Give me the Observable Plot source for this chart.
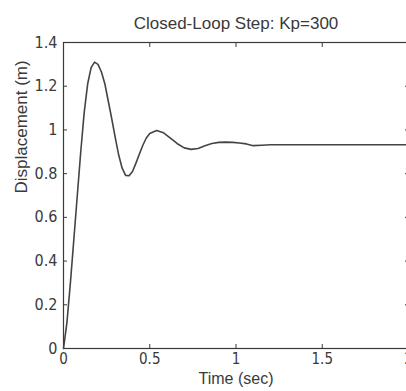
<!DOCTYPE html>
<html>
<head>
<meta charset="utf-8">
<script src="https://cdn.jsdelivr.net/npm/d3@7"></script>
<script src="https://cdn.jsdelivr.net/npm/@observablehq/plot@0.6"></script>
<style>
  html, body { margin: 0; padding: 0; background: #fff; }
  #chart { position: relative; width: 406px; height: 391px; overflow: hidden; }
  svg { font-family: "Liberation Sans", Arial, sans-serif; }
</style>
</head>
<body>
<div id="chart"></div>
<script>
const title = "Closed-Loop Step: Kp=300";
const xLabel = "Time (sec)";
const yLabel = "Displacement (m)";
const xTicks = [0, 0.5, 1, 1.5, 2];
const yTicks = [0, 0.2, 0.4, 0.6, 0.8, 1, 1.2, 1.4];

const time = [0, 0.02, 0.04, 0.06, 0.08, 0.10, 0.12, 0.14, 0.16, 0.18, 0.20, 0.22, 0.24, 0.26, 0.28, 0.30, 0.32, 0.34, 0.36, 0.38, 0.40, 0.42, 0.44, 0.46, 0.48, 0.50, 0.54, 0.58, 0.62, 0.66, 0.70, 0.74, 0.78, 0.82, 0.86, 0.90, 0.94, 0.98, 1.02, 1.06, 1.10, 1.15, 1.2, 1.4, 1.6, 1.8, 2.0];
const displacement = [0, 0.12, 0.3, 0.5, 0.7, 0.9, 1.08, 1.21, 1.285, 1.31, 1.3, 1.265, 1.21, 1.13, 1.05, 0.965, 0.885, 0.825, 0.792, 0.79, 0.81, 0.848, 0.89, 0.93, 0.963, 0.984, 0.997, 0.987, 0.962, 0.937, 0.918, 0.911, 0.915, 0.928, 0.938, 0.943, 0.944, 0.943, 0.94, 0.936, 0.928, 0.93, 0.932, 0.932, 0.932, 0.932, 0.932];

const data = time.map((t, i) => ({t, y: displacement[i]}));
const ink = "#3a3a3a";
const tickFont = "'Liberation Sans Narrow', 'DejaVu Sans Condensed', 'Liberation Sans', sans-serif";

const chart = Plot.plot({
  width: 406,
  height: 391,
  marginLeft: 63,
  marginRight: -2,
  marginTop: 42,
  marginBottom: 43,
  style: {fontSize: "12px", color: ink, background: "#fff", overflow: "hidden"},
  x: {domain: [0, 2], ticks: xTicks},
  y: {domain: [0, 1.4], ticks: yTicks},
  marks: [
    Plot.frame({stroke: ink, strokeWidth: 1.2}),
    Plot.axisX({anchor: "bottom", ticks: xTicks, tickSize: -4, tickPadding: 9, tickFormat: d3.format(""), stroke: ink, fill: ink, fontSize: 15, fontFamily: tickFont, label: null}),
    Plot.axisX({anchor: "top", ticks: xTicks, tickSize: -4, tickFormat: () => "", stroke: ink, label: null}),
    Plot.axisY({anchor: "left", ticks: yTicks, tickSize: -4, tickPadding: 10, tickFormat: d3.format(""), stroke: ink, fill: ink, fontSize: 16, fontFamily: tickFont, label: null}),
    Plot.axisY({anchor: "right", ticks: yTicks, tickSize: -4, tickFormat: () => "", stroke: ink, label: null}),
    Plot.line(data, {x: "t", y: "y", stroke: "#444", strokeWidth: 1.6}),
    Plot.text([title], {frameAnchor: "top", dy: -26, fill: ink, fontSize: 17}),
    Plot.text([xLabel], {frameAnchor: "bottom", dy: 35, fill: ink, fontSize: 16}),
    Plot.text([yLabel], {frameAnchor: "left", dx: -42, dy: -2, rotate: -90, fill: ink, fontSize: 17})
  ]
});
document.getElementById("chart").appendChild(chart);
</script>
</body>
</html>
